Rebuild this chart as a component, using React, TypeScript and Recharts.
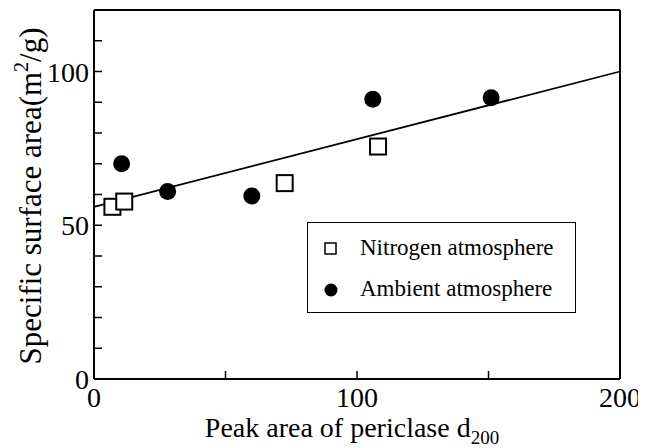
import React from 'react'
import {
  ScatterChart,
  Scatter,
  XAxis,
  YAxis,
  ReferenceLine,
  Legend,
} from 'recharts'

// nitrogen atmosphere (open squares)
const nitrogenX = [7, 11.5, 72.5, 108]
const nitrogenY = [56, 57.7, 63.7, 75.6]

// ambient atmosphere (filled circles)
const ambientX = [10.5, 28, 60, 106, 151]
const ambientY = [70, 61, 59.5, 91, 91.5]

// linear fit
const fitX = [0, 200]
const fitY = [56, 100]

const xTicks = [0, 50, 100, 150, 200]
const xLabels = [0, 100, 200]
const yTicks = [0, 10, 20, 30, 40, 50, 60, 70, 80, 90, 100, 110, 120]
const yLabels = [0, 50, 100]

const nitrogenData = nitrogenX.map((x, i) => ({ x, y: nitrogenY[i] }))
const ambientData = ambientX.map((x, i) => ({ x, y: ambientY[i] }))

const FONT = 'Liberation Serif'
const TICK = 8
const textStyle = { fontFamily: FONT }

const BottomTick = (props: any) => {
  const { x, y, payload } = props
  return (
    <g>
      <line x1={x} x2={x} y1={y} y2={y - TICK} stroke="#000" strokeWidth={1.5} />
      {xLabels.includes(payload.value) && (
        <text x={x} y={y + 28} textAnchor="middle" fontSize={28} style={textStyle} fill="#000">
          {payload.value}
        </text>
      )}
    </g>
  )
}

const TopTick = (props: any) => {
  const { x, y } = props
  return <line x1={x} x2={x} y1={y} y2={y + TICK} stroke="#000" strokeWidth={1.5} />
}

const LeftTick = (props: any) => {
  const { x, y, payload } = props
  return (
    <g>
      <line x1={x} x2={x + TICK} y1={y} y2={y} stroke="#000" strokeWidth={1.5} />
      {yLabels.includes(payload.value) && (
        <text x={x - 5} y={y + 10} textAnchor="end" fontSize={28} style={textStyle} fill="#000">
          {payload.value}
        </text>
      )}
    </g>
  )
}

const RightTick = (props: any) => {
  const { x, y } = props
  return <line x1={x} x2={x - TICK} y1={y} y2={y} stroke="#000" strokeWidth={1.5} />
}

const Square = (props: any) => {
  const { cx, cy } = props
  return <rect x={cx - 8} y={cy - 8} width={16} height={16} fill="#fff" stroke="#000" strokeWidth={2} />
}

const Dot = (props: any) => {
  const { cx, cy } = props
  return <circle cx={cx} cy={cy} r={8.5} fill="#000" />
}

const LegendBox = () => (
  <div
    style={{
      width: 269,
      height: 91,
      boxSizing: 'border-box',
      border: '1.5px solid #000',
      background: '#fff',
      fontFamily: FONT,
      fontSize: 23,
      color: '#000',
      position: 'relative',
    }}
  >
    <svg width={16} height={16} style={{ position: 'absolute', left: 15, top: 18 }}>
      <rect x={2} y={2} width={11} height={11} fill="#fff" stroke="#000" strokeWidth={1.5} />
    </svg>
    <span style={{ position: 'absolute', left: 52, top: 11, lineHeight: '28px' }}>Nitrogen atmosphere</span>
    <svg width={16} height={16} style={{ position: 'absolute', left: 15, top: 59 }}>
      <circle cx={8} cy={8} r={6.5} fill="#000" />
    </svg>
    <span style={{ position: 'absolute', left: 52, top: 52, lineHeight: '28px' }}>Ambient atmosphere</span>
  </div>
)

const YTitle = () => {
  const cx = 33
  const cy = 188
  return (
    <text
      x={cx}
      y={cy}
      transform={`rotate(-90 ${cx} ${cy})`}
      textAnchor="middle"
      fontSize={31}
      style={textStyle}
      fill="#000"
    >
      <tspan>Specific surface area(m</tspan>
      <tspan dy={-13} fontSize={20}>2</tspan>
      <tspan dy={13}>/g)</tspan>
    </text>
  )
}

const XTitle = (props: any) => {
  const { viewBox } = props
  const cx = viewBox.x + viewBox.width / 2 - 5
  return (
    <text x={cx} y={429} textAnchor="middle" fontSize={28} style={textStyle} fill="#000">
      <tspan>Peak area of periclase d</tspan>
      <tspan dy={7} fontSize={19}>200</tspan>
    </text>
  )
}

export default function App() {
  return (
    <div style={{ width: 638, height: 440, background: '#fff', fontFamily: FONT }}>
      <ScatterChart width={638} height={440} margin={{ top: 1, right: 25, bottom: 9, left: 26 }}>
        <XAxis
          type="number"
          dataKey="x"
          domain={[0, 200]}
          ticks={xTicks}
          interval={0}
          tickSize={0}
          tickMargin={0}
          tickLine={false}
          tick={<BottomTick />}
          axisLine={{ stroke: '#000', strokeWidth: 2 }}
          height={60}
          allowDataOverflow
          label={<XTitle />}
        />
        <XAxis
          xAxisId="top"
          orientation="top"
          type="number"
          dataKey="x"
          domain={[0, 200]}
          ticks={xTicks}
          interval={0}
          tickSize={0}
          tickMargin={0}
          tickLine={false}
          tick={<TopTick />}
          axisLine={{ stroke: '#000', strokeWidth: 2 }}
          height={1}
        />
        <YAxis
          type="number"
          dataKey="y"
          domain={[0, 120]}
          ticks={yTicks}
          interval={0}
          tickSize={0}
          tickMargin={0}
          tickLine={false}
          tick={<LeftTick />}
          axisLine={{ stroke: '#000', strokeWidth: 2 }}
          width={60}
          allowDataOverflow
          label={<YTitle />}
        />
        <YAxis
          yAxisId="right"
          orientation="right"
          type="number"
          dataKey="y"
          domain={[0, 120]}
          ticks={yTicks}
          interval={0}
          tickSize={0}
          tickMargin={0}
          tickLine={false}
          tick={<RightTick />}
          axisLine={{ stroke: '#000', strokeWidth: 2 }}
          width={1}
        />
        <ReferenceLine
          segment={[
            { x: fitX[0], y: fitY[0] },
            { x: fitX[1], y: fitY[1] },
          ]}
          stroke="#000"
          strokeWidth={1.8}
          ifOverflow="extendDomain"
        />
        <Scatter name="Nitrogen atmosphere" data={nitrogenData} shape={<Square />} isAnimationActive={false} />
        <Scatter name="Ambient atmosphere" data={ambientData} shape={<Dot />} isAnimationActive={false} />
        <Legend
          layout="vertical"
          align="center"
          verticalAlign="middle"
          content={<LegendBox />}
          wrapperStyle={{ position: 'absolute', left: 299, top: 214, width: 269, height: 91 }}
        />
      </ScatterChart>
    </div>
  )
}
